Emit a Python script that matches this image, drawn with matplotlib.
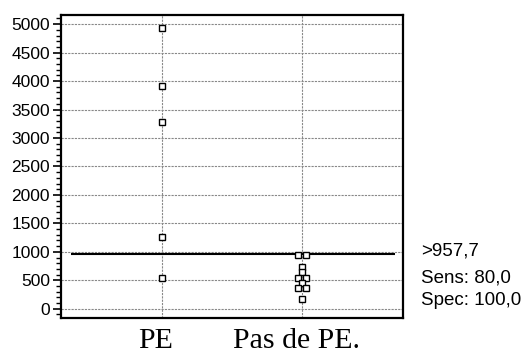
import matplotlib
matplotlib.use("Agg")
import matplotlib.pyplot as plt
from matplotlib.ticker import MultipleLocator
import matplotlib.transforms as mtransforms
import numpy as np

categories = ["PE", "Pas de PE."]
pe_values = [4935, 3905, 3285, 1265, 540]
non_pe_values = [940, 940, 730, 655, 540, 540, 450, 360, 360, 175]
cutoff = 957.7
stats_labels = [">957,7", "Sens: 80,0", "Spec: 100,0"]
yticks = [0, 500, 1000, 1500, 2000, 2500, 3000, 3500, 4000, 4500, 5000]

fig = plt.figure(figsize=(5.26, 3.58), dpi=100)
ax = fig.add_axes([0.116, 0.112, 0.65, 0.846])

def swarm_x(center, values, step=0.03):
    xs = []
    vals = list(values)
    for i, v in enumerate(vals):
        dup = [j for j, w in enumerate(vals) if w == v]
        if len(dup) > 1:
            k = dup.index(i)
            xs.append(center + (k - (len(dup) - 1) / 2) * 2 * step)
        else:
            xs.append(center)
    return xs

for i, vals in enumerate([pe_values, non_pe_values]):
    ax.plot(swarm_x(i, vals), vals, linestyle="none", marker="s", ms=4.5,
            mfc="white", mec="black", mew=1.0, zorder=4)

ax.hlines(cutoff, -0.65, 1.66, color="black", lw=1.5, zorder=3)

ax.set_xlim(-0.72, 1.72)
ax.set_ylim(-160, 5160)
ax.set_yticks(yticks)
ax.yaxis.set_minor_locator(MultipleLocator(100))
ax.set_xticks([0, 1])
ax.set_xticklabels(categories, family="Liberation Serif", fontsize=21.5)
ax.tick_params(axis="x", length=0, pad=7)
ax.tick_params(axis="y", which="major", length=6, width=1.2, labelsize=12.5, pad=2)
ax.tick_params(axis="y", which="minor", length=3.5, width=1.0)
for lab in ax.get_yticklabels():
    lab.set_family("Liberation Sans")
shift = mtransforms.ScaledTranslation(-0.06, 0, fig.dpi_scale_trans)
for lab in ax.get_xticklabels():
    lab.set_transform(lab.get_transform() + shift)

ax.grid(True, which="major", color="#888888", linestyle=(0, (2, 1)), lw=0.8)
for s in ax.spines.values():
    s.set_linewidth(1.6)
    s.set_color("black")

ys = [0.285, 0.212, 0.148]
for t, y in zip(stats_labels, ys):
    fig.text(0.801, y, t, family="Liberation Sans", fontsize=13.5, va="baseline", ha="left")

fig.savefig("out.png", dpi=100)
